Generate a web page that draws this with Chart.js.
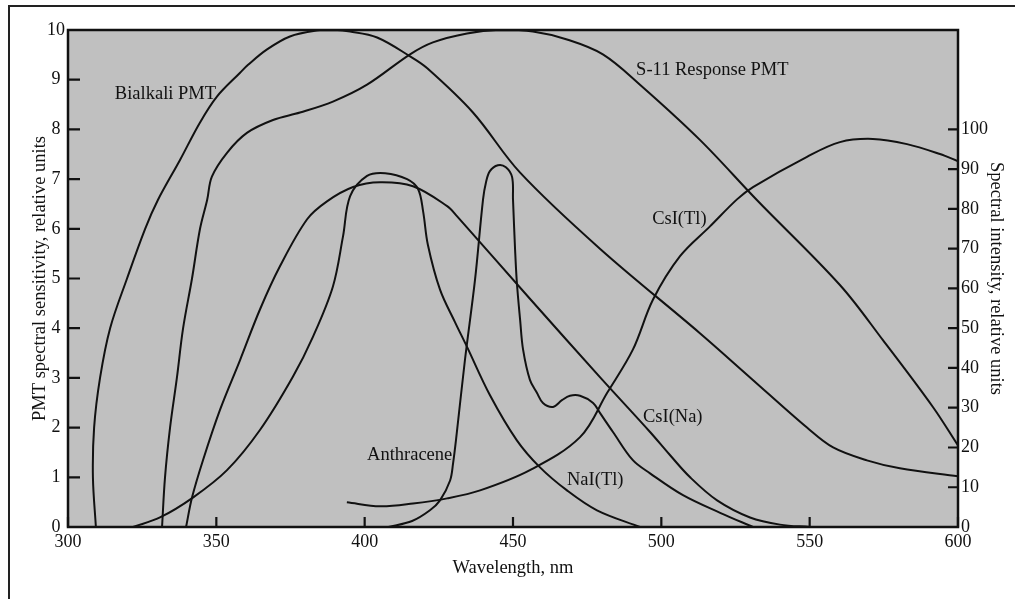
<!DOCTYPE html>
<html>
<head>
<meta charset="utf-8">
<script src="https://cdn.jsdelivr.net/npm/chart.js@4.4.0/dist/chart.umd.min.js"></script>
<style>
  html, body { margin: 0; padding: 0; background: #fff; }
  #frame { position: absolute; left: 8px; top: 5px; right: 0; bottom: 0;
           border-top: 2px solid #222; border-left: 2px solid #222; }
  #chart { position: absolute; left: 0; top: 0; }
</style>
</head>
<body>
<div id="frame"></div>
<canvas id="chart" width="1015" height="599"></canvas>
<script>
// PMT spectral sensitivity (left axis, 0-10) and scintillator emission
// spectra (right axis, relative intensity).

const xTicks = [300, 350, 400, 450, 500, 550, 600];

// PMT responses, left axis
const bialkaliNm  = [309.4, 308.4, 308.8, 310.8, 314.2, 319.9, 326.0, 330.3, 337.8, 344.5, 350.2, 358.0, 360.7, 367.1, 374.8, 383.9, 389.3, 395.1, 404.2, 415.3, 420.9, 436.5, 452.4, 479.3, 513.0, 529.9, 549.1, 557.9, 569.3, 580.4, 600];
const bialkaliVal = [0, 1.0, 2.0, 3.0, 4.0, 5.0, 6.0, 6.58, 7.39, 8.14, 8.66, 9.14, 9.30, 9.61, 9.87, 9.99, 10.0, 9.97, 9.85, 9.47, 9.24, 8.34, 7.13, 5.6, 3.9, 3.01, 2.0, 1.6, 1.34, 1.18, 1.02];

const s11Nm  = [331.7, 332.7, 334.4, 336.7, 338.8, 341.8, 344.5, 346.9, 348.5, 353.6, 360.3, 369.1, 378.2, 389.3, 400.8, 415.3, 423.0, 434.5, 445.6, 456.7, 468.2, 480.3, 492.8, 513.0, 532.2, 560.2, 574.7, 591.6, 600];
const s11Val = [0, 1.0, 2.0, 3.0, 4.0, 5.0, 6.0, 6.58, 7.05, 7.53, 7.93, 8.19, 8.34, 8.56, 8.90, 9.51, 9.75, 9.93, 10.0, 9.97, 9.81, 9.51, 8.90, 7.79, 6.58, 4.87, 3.76, 2.41, 1.64];

// emission spectra, right axis
const csiNaNm  = [339.8, 341.8, 345.5, 351.2, 358.0, 364.7, 371.4, 380.6, 387.3, 396.1, 405.2, 416.3, 427.8, 431.1, 455.7, 479.3, 496.2, 502.9, 509.7, 518.8, 529.9, 540.0, 550.1];
const csiNaVal = [0, 7.4, 16.8, 29.4, 42.0, 54.7, 65.5, 77.4, 81.9, 85.5, 86.7, 85.7, 80.7, 78.2, 57.4, 37.7, 23.9, 18.1, 12.5, 6.7, 2.4, 0.6, 0];

const naiNm  = [321.9, 331.0, 342.1, 353.6, 364.7, 375.8, 382.6, 389.3, 392.7, 395.1, 400.8, 406.9, 414.3, 418.0, 419.7, 421.3, 425.4, 430.4, 434.5, 442.2, 451.3, 459.1, 468.2, 478.3, 492.8];
const naiVal = [0, 2.4, 7.4, 14.3, 24.4, 37.8, 47.9, 60.5, 73.1, 83.2, 88.3, 89.0, 87.5, 85.0, 79.4, 71.0, 59.7, 51.6, 45.3, 33.2, 21.8, 15.0, 9.2, 4.2, 0];

const anthNm  = [408.0, 416.0, 422.0, 425.4, 428.8, 429.8, 430.8, 433.8, 437.2, 439.9, 440.9, 442.2, 444.9, 447.6, 449.7, 450.0, 450.7, 451.3, 452.4, 453.4, 455.7, 458.1, 460.1, 463.5, 466.5, 469.2, 472.6, 477.0, 479.3, 483.7, 490.4, 496.2, 507.3, 520.0, 530.9];
const anthVal = [0, 1.5, 4.2, 6.7, 11.7, 16.0, 22.0, 42.0, 62.2, 82.4, 86.7, 89.5, 91.0, 90.5, 88.0, 82.4, 69.8, 61.5, 52.1, 44.6, 37.0, 33.7, 31.2, 30.2, 31.9, 33.0, 33.0, 31.2, 28.7, 23.9, 16.8, 13.5, 8.0, 3.5, 0];

const csiTlNm  = [394.0, 405.2, 416.3, 427.8, 438.9, 455.7, 472.6, 481.7, 490.4, 497.2, 506.3, 516.4, 525.5, 530.9, 549.1, 560.2, 571.3, 582.8, 593.9, 600];
const csiTlVal = [6.2, 5.2, 5.9, 7.2, 9.2, 14.3, 22.6, 33.7, 44.6, 57.2, 68.1, 75.6, 82.4, 85.5, 93.1, 96.8, 97.6, 96.3, 93.8, 92.0];

// curve labels (left-axis units)
const labelText = ['Bialkali PMT', 'S-11 Response PMT', 'CsI(Tl)', 'CsI(Na)', 'Anthracene', 'NaI(Tl)'];
const labelNm   = [315.8, 491.5, 496.9, 493.8, 400.8, 468.2];
const labelVal  = [8.70, 9.20, 6.20, 2.21, 1.44, 0.94];

const SERIF = '"Liberation Serif", "Times New Roman", serif';
const INK = '#111';

function pts(xs, ys){ return xs.map((x, i) => ({ x, y: ys[i] })); }

function curve(xs, ys, axis){
  return {
    data: pts(xs, ys), yAxisID: axis,
    borderColor: INK, borderWidth: 2, pointRadius: 0,
    tension: 0.35, fill: false
  };
}

// grey plot area, heavy frame, inward tick marks, curve labels
const plotDecor = {
  id: 'plotDecor',
  beforeDraw(chart){
    const { ctx, chartArea: a } = chart;
    ctx.save();
    ctx.fillStyle = '#c0c0c0';
    ctx.fillRect(a.left, a.top, a.right - a.left, a.bottom - a.top);
    ctx.restore();
  },
  afterDraw(chart){
    const { ctx, chartArea: a, scales } = chart;
    ctx.save();
    ctx.strokeStyle = INK;
    ctx.lineWidth = 2.5;
    ctx.strokeRect(a.left, a.top, a.right - a.left, a.bottom - a.top);
    ctx.lineWidth = 2.2;
    ctx.beginPath();
    scales.y.ticks.forEach(t => {
      const p = scales.y.getPixelForValue(t.value);
      ctx.moveTo(a.left, p); ctx.lineTo(a.left + 12, p);
    });
    scales.y1.ticks.forEach(t => {
      const p = scales.y1.getPixelForValue(t.value);
      ctx.moveTo(a.right, p); ctx.lineTo(a.right - 10, p);
    });
    scales.x.ticks.forEach(t => {
      const p = scales.x.getPixelForValue(t.value);
      ctx.moveTo(p, a.bottom); ctx.lineTo(p, a.bottom - 10);
    });
    ctx.stroke();

    ctx.fillStyle = INK;
    ctx.font = '18.5px ' + SERIF;
    ctx.textAlign = 'left';
    ctx.textBaseline = 'middle';
    labelText.forEach((txt, i) => {
      ctx.fillText(txt, scales.x.getPixelForValue(labelNm[i]), scales.y.getPixelForValue(labelVal[i]));
    });
    ctx.restore();
  }
};

new Chart(document.getElementById('chart'), {
  type: 'line',
  data: {
    datasets: [
      curve(bialkaliNm, bialkaliVal, 'y'),
      curve(s11Nm, s11Val, 'y'),
      curve(csiNaNm, csiNaVal, 'y1'),
      curve(naiNm, naiVal, 'y1'),
      curve(anthNm, anthVal, 'y1'),
      curve(csiTlNm, csiTlVal, 'y1')
    ]
  },
  options: {
    responsive: false,
    animation: false,
    layout: { padding: { top: 30 } },
    plugins: { legend: { display: false }, tooltip: { enabled: false } },
    scales: {
      x: {
        type: 'linear', min: 300, max: 600,
        afterBuildTicks: s => { s.ticks = xTicks.map(v => ({ value: v })); },
        afterFit: s => { s.height = 72; },
        grid: { display: false, drawTicks: false },
        border: { display: false },
        ticks: { color: INK, padding: 4, maxRotation: 0, font: { family: SERIF, size: 18 } },
        title: { display: true, text: 'Wavelength, nm', color: INK,
                 font: { family: SERIF, size: 18.5 }, padding: { bottom: 20 } }
      },
      y: {
        position: 'left', min: 0, max: 10,
        afterFit: s => { s.width = 68; },
        grid: { display: false, drawTicks: false },
        border: { display: false },
        ticks: { stepSize: 1, color: INK, padding: 3, crossAlign: 'center',
                 font: { family: SERIF, size: 18 } },
        title: { display: true, text: 'PMT spectral sensitivity, relative units', color: INK,
                 font: { family: SERIF, size: 18.5 }, padding: { top: 29 } }
      },
      y1: {
        position: 'right', min: 0, max: 125,
        afterBuildTicks: s => { s.ticks = s.ticks.filter(t => t.value <= 100); },
        afterFit: s => { s.width = 57; },
        grid: { display: false, drawTicks: false },
        border: { display: false },
        ticks: { stepSize: 10, color: INK, padding: 3,
                 font: { family: SERIF, size: 18 } },
        title: { display: true, text: 'Spectral intensity, relative units', color: INK,
                 font: { family: SERIF, size: 18.5 }, padding: { top: 8 } }
      }
    }
  },
  plugins: [plotDecor]
});
</script>
</body>
</html>
